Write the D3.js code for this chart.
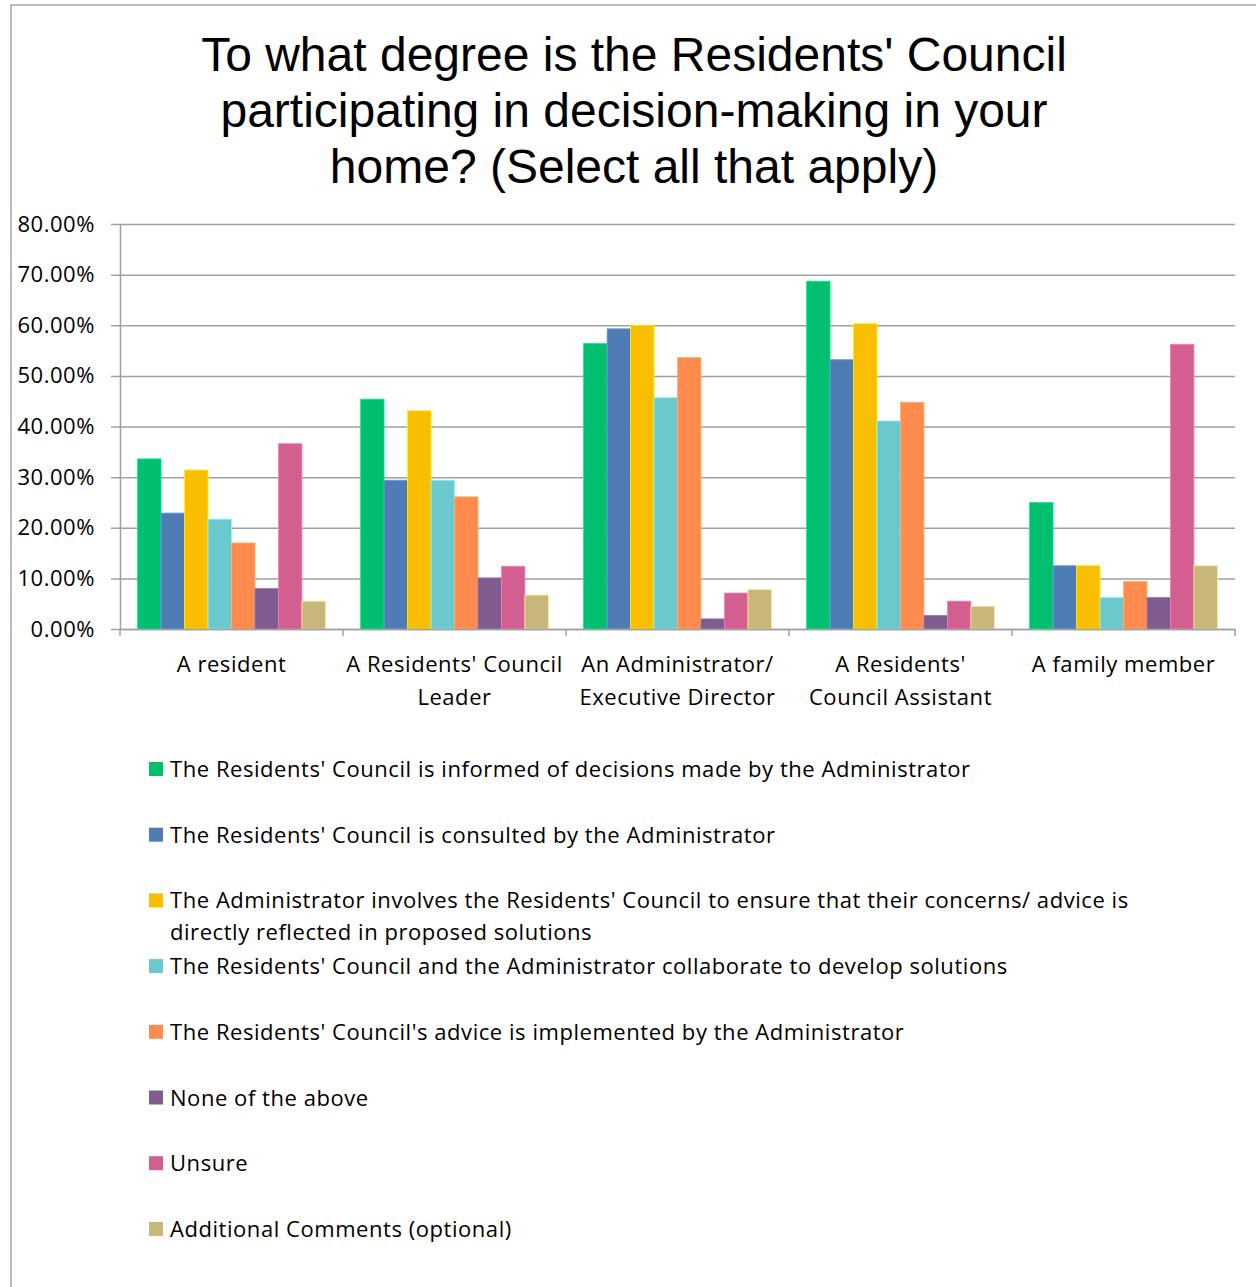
<!DOCTYPE html>
<html>
<head>
<meta charset="utf-8">
<script src="https://cdn.jsdelivr.net/npm/d3@7"></script>
<style>
  html, body { margin: 0; padding: 0; background: #fff; }
  svg { display: block; }
</style>
</head>
<body>
<svg id="chart" width="1256" height="1287"></svg>
<script>
// Who answered, one group of bars per respondent type
const categories = [
  "A resident",
  "A Residents' Council Leader",
  "An Administrator/ Executive Director",
  "A Residents' Council Assistant",
  "A family member"
];
const categoryLines = [
  ["A resident"],
  ["A Residents' Council", "Leader"],
  ["An Administrator/", "Executive Director"],
  ["A Residents'", "Council Assistant"],
  ["A family member"]
];

// Answer options (one bar colour each)
const series = [
  "The Residents' Council is informed of decisions made by the Administrator",
  "The Residents' Council is consulted by the Administrator",
  "The Administrator involves the Residents' Council to ensure that their concerns/ advice is directly reflected in proposed solutions",
  "The Residents' Council and the Administrator collaborate to develop solutions",
  "The Residents' Council's advice is implemented by the Administrator",
  "None of the above",
  "Unsure",
  "Additional Comments (optional)"
];
const colors = ["#00bf6f", "#507cb6", "#f9be00", "#6bc8cd", "#ff8b4f", "#7e5c8e", "#d35f90", "#c8b77a"];

// Share of respondents per answer, one array per respondent type (fractions)
const aResident        = [0.336, 0.229, 0.314, 0.217, 0.170, 0.080, 0.366, 0.055];
const councilLeader    = [0.454, 0.294, 0.431, 0.294, 0.261, 0.101, 0.124, 0.067];
const administrator    = [0.564, 0.593, 0.600, 0.457, 0.536, 0.020, 0.071, 0.078];
const councilAssistant = [0.687, 0.532, 0.603, 0.411, 0.448, 0.027, 0.055, 0.045];
const familyMember     = [0.250, 0.125, 0.125, 0.0625, 0.094, 0.0625, 0.5625, 0.125];
const values = [aResident, councilLeader, administrator, councilAssistant, familyMember];

const yTicks = [0, 0.1, 0.2, 0.3, 0.4, 0.5, 0.6, 0.7, 0.8];

const titleLines = [
  "To what degree is the Residents' Council",
  "participating in decision-making in your",
  "home? (Select all that apply)"
];

const svg = d3.select("#chart");
const bodyFont = "'Open Sans', 'Noto Sans', sans-serif";
const bodySize = 22;
const bodySpacing = "0.55px";

// Outer frame of the chart
svg.append("rect")
  .attr("x", 11).attr("y", 5)
  .attr("width", 1300).attr("height", 1320)
  .attr("fill", "#fff")
  .attr("stroke", "#a6a6a6")
  .attr("stroke-width", 1.5);

// Title
svg.append("g")
  .selectAll("text")
  .data(titleLines)
  .join("text")
  .attr("x", 634)
  .attr("y", (d, i) => 71 + i * 56)
  .attr("text-anchor", "middle")
  .attr("font-family", "'Liberation Sans', Arial, sans-serif")
  .attr("font-size", 48)
  .attr("fill", "#000")
  .text(d => d);

// Plot area
const plot = { left: 120, right: 1235, top: 224, bottom: 629 };

const x = d3.scaleBand()
  .domain(categories)
  .range([plot.left, plot.right])
  .padding(0);

const xInner = d3.scaleBand()
  .domain(series)
  .range([0, x.bandwidth()])
  .paddingInner(0)
  .paddingOuter(0.75);

const y = d3.scaleLinear()
  .domain([0, 0.8])
  .range([plot.bottom, plot.top]);

const fmt = d3.format(".2%");

// Horizontal gridlines
const gy = svg.append("g")
  .attr("transform", `translate(${plot.right},0)`)
  .call(d3.axisLeft(y).tickValues(yTicks).tickSize(plot.right - plot.left + 9).tickFormat(""));
gy.select(".domain").remove();
gy.selectAll(".tick line").attr("stroke", "#a0a0a0").attr("stroke-width", 1.5);

// Value axis and its labels
const gyl = svg.append("g")
  .attr("transform", `translate(${plot.left},0)`)
  .call(d3.axisLeft(y).tickValues(yTicks).tickFormat(fmt).tickSize(0).tickPadding(25));
gyl.select(".domain").attr("stroke", "#a0a0a0").attr("stroke-width", 1.5);
gyl.selectAll(".tick text")
  .attr("font-family", bodyFont)
  .attr("font-size", bodySize)
  .attr("letter-spacing", bodySpacing)
  .attr("fill", "#000");

// Bars
const groups = svg.append("g")
  .selectAll("g")
  .data(categories)
  .join("g")
  .attr("transform", d => `translate(${x(d)},0)`);

groups.selectAll("rect")
  .data((c, ci) => series.map((s, si) => ({ s, si, v: values[ci][si] })))
  .join("rect")
  .attr("x", d => xInner(d.s))
  .attr("y", d => y(d.v))
  .attr("width", xInner.bandwidth())
  .attr("height", d => y(0) - y(d.v))
  .attr("fill", d => colors[d.si])
  .attr("stroke", d => d3.color(colors[d.si]).brighter(0.7))
  .attr("stroke-width", 0.8);

// Category axis
const gx = svg.append("g")
  .attr("transform", `translate(0,${plot.bottom})`)
  .call(d3.axisBottom(x).tickSize(0).tickFormat(""));
gx.select(".domain").attr("stroke", "#a0a0a0").attr("stroke-width", 1.5);
gx.selectAll(".tick").remove();

// Category separators
const boundaries = categories.map(c => x(c)).concat([plot.right]);
gx.selectAll("line.sep")
  .data(boundaries)
  .join("line")
  .attr("class", "sep")
  .attr("x1", d => d).attr("x2", d => d)
  .attr("y1", 0).attr("y2", 7)
  .attr("stroke", "#a0a0a0")
  .attr("stroke-width", 1.5);

// Category labels
const labels = svg.append("g")
  .selectAll("text")
  .data(categories)
  .join("text")
  .attr("text-anchor", "middle")
  .attr("font-family", bodyFont)
  .attr("font-size", bodySize)
  .attr("letter-spacing", bodySpacing)
  .attr("fill", "#000");
labels.each(function (c, i) {
  d3.select(this).selectAll("tspan")
    .data(categoryLines[i])
    .join("tspan")
    .attr("x", x(c) + x.bandwidth() / 2)
    .attr("y", (d, j) => 672 + j * 33)
    .text(d => d);
});

// Legend
const legendWrap = 985;
const legend = svg.append("g");
const items = legend.selectAll("g")
  .data(series)
  .join("g")
  .attr("transform", (d, i) => `translate(149,${777 + i * 65.7})`);

items.append("rect")
  .attr("x", 0).attr("y", -15)
  .attr("width", 14).attr("height", 14)
  .attr("fill", (d, i) => colors[i]);

items.append("text")
  .attr("x", 21)
  .attr("y", 0)
  .attr("font-family", bodyFont)
  .attr("font-size", bodySize)
  .attr("letter-spacing", bodySpacing)
  .attr("fill", "#000")
  .each(function (d) {
    const t = d3.select(this);
    const words = d.split(" ");
    let line = [];
    let lineNo = 0;
    let tspan = t.append("tspan").attr("x", 21).attr("y", 0);
    words.forEach(w => {
      line.push(w);
      tspan.text(line.join(" "));
      if (tspan.node().getComputedTextLength() > legendWrap && line.length > 1) {
        line.pop();
        tspan.text(line.join(" "));
        line = [w];
        lineNo += 1;
        tspan = t.append("tspan").attr("x", 21).attr("y", lineNo * 32).text(w);
      }
    });
  });
</script>
</body>
</html>
